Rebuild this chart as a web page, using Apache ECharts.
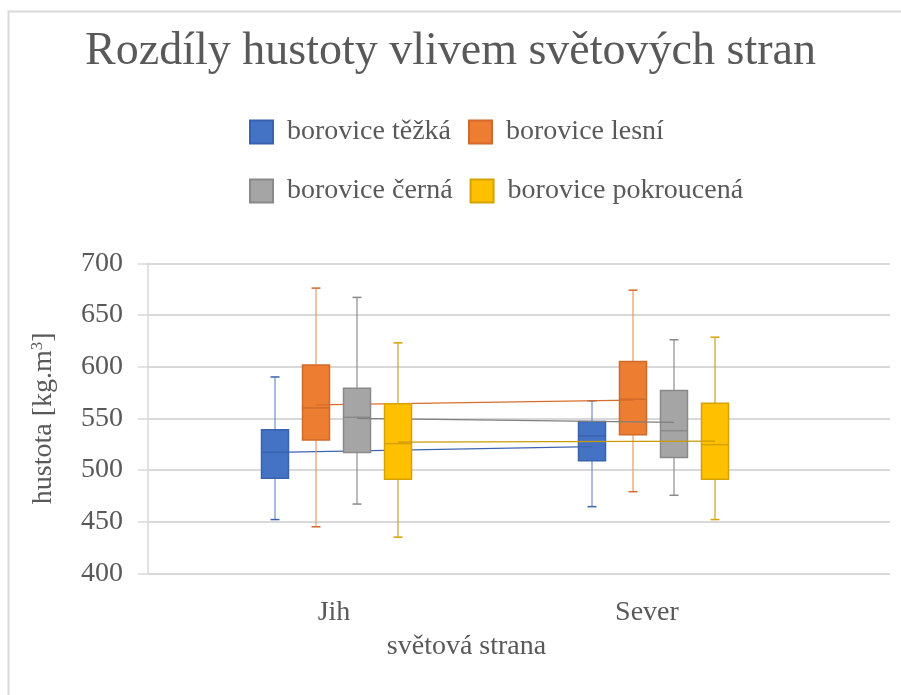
<!DOCTYPE html>
<html>
<head>
<meta charset="utf-8">
<script src="https://cdn.jsdelivr.net/npm/echarts@6/dist/echarts.min.js"></script>
<style>
  html, body { margin: 0; padding: 0; background: #fff; }
  #chart { width: 901px; height: 695px; }
</style>
</head>
<body>
<div id="chart"></div>
<script>
const categories = ['Jih', 'Sever'];
const seriesNames = ['borovice těžká', 'borovice lesní', 'borovice černá', 'borovice pokroucená'];

// [min, Q1, medián, Q3, max] for Jih, Sever
const tezkaBox = [[452, 492, 517, 539, 590], [464.5, 509, 533, 547, 567]];
const lesniBox = [[445, 529, 560, 601.5, 676], [479, 534, 568.5, 605, 674]];
const cernaBox = [[467, 517, 551, 579, 667], [475.5, 512, 538, 577, 626]];
const pokroucenaBox = [[435, 491, 525.5, 564, 623], [452, 491, 524.5, 564.5, 628.5]];

// průměry for Jih, Sever
const tezkaMean = [517, 522.5];
const lesniMean = [563, 567.5];
const cernaMean = [550, 546];
const pokroucenaMean = [527, 528];

const yMin = 400;
const yMax = 700;
const yStep = 50;

const boxes = [tezkaBox, lesniBox, cernaBox, pokroucenaBox];
const means = [tezkaMean, lesniMean, cernaMean, pokroucenaMean];

const FONT = "'Liberation Serif', 'Times New Roman', serif";
const TEXT = '#595959';
const GRID_LINE = '#d9d9d9';

const colors = [
  { fill: '#4472c4', border: '#3a63ad', whisker: '#6f8fca', mean: '#3d64b0' },
  { fill: '#ed7d31', border: '#d0692a', whisker: '#e8996b', mean: '#d86d2d' },
  { fill: '#a5a5a5', border: '#8a8a8a', whisker: '#8c8c8c', mean: '#7f7f7f' },
  { fill: '#ffc000', border: '#d6a200', whisker: '#c9a22b', mean: '#c99a06' }
];

const PLOT_TOP = 263.3;
const PLOT_H = 310;
const BAND_LEFT = 178;
const BAND_W = 634;
const offsets = [-61.5, -20.5, 20.5, 61.5];
const BOX_W = 27;
const CAP_W = 9;

function renderBox(c) {
  return function (params, api) {
    const cat = api.value(0);
    const x = api.coord([cat, yMin])[0];
    const p = [1, 2, 3, 4, 5].map(d => api.coord([cat, api.value(d)])[1]);
    const wStyle = { stroke: c.whisker, lineWidth: 1.2 };
    return {
      type: 'group',
      children: [
        { type: 'line', shape: { x1: x, y1: p[4], x2: x, y2: p[3] }, style: wStyle },
        { type: 'line', shape: { x1: x, y1: p[0], x2: x, y2: p[1] }, style: wStyle },
        { type: 'line', shape: { x1: x - CAP_W / 2, y1: p[4], x2: x + CAP_W / 2, y2: p[4] }, style: { stroke: c.border, lineWidth: 1.5 } },
        { type: 'line', shape: { x1: x - CAP_W / 2, y1: p[0], x2: x + CAP_W / 2, y2: p[0] }, style: { stroke: c.border, lineWidth: 1.5 } },
        { type: 'rect', shape: { x: x - BOX_W / 2, y: p[3], width: BOX_W, height: p[1] - p[3] },
          style: { fill: c.fill, stroke: c.border, lineWidth: 1.5 } },
        { type: 'line', shape: { x1: x - BOX_W / 2, y1: p[2], x2: x + BOX_W / 2, y2: p[2] }, style: { stroke: c.border, lineWidth: 1.5 } }
      ]
    };
  };
}

const grids = [{ left: 148, right: 11, top: PLOT_TOP, height: PLOT_H }];
const xAxes = [{ gridIndex: 0, type: 'category', data: categories, show: false }];
const yAxes = [{
  gridIndex: 0, type: 'value', min: yMin, max: yMax, interval: yStep,
  name: 'hustota [kg.m{sup|3}]', nameLocation: 'middle', nameGap: 90, nameRotate: 90,
  nameTextStyle: {
    fontFamily: FONT, fontSize: 28, color: TEXT,
    rich: { sup: { fontFamily: FONT, fontSize: 17, color: TEXT, padding: [0, 0, 12, 0] } }
  },
  axisLine: { show: true, lineStyle: { color: GRID_LINE, width: 1.5 } },
  axisTick: { show: true, length: 10, lineStyle: { color: GRID_LINE, width: 1.5 } },
  axisLabel: { fontFamily: FONT, fontSize: 28, color: TEXT, margin: 25 },
  splitLine: { lineStyle: { color: GRID_LINE, width: 2 } }
}];

const series = [];
boxes.forEach((box, i) => {
  const gi = i + 1;
  grids.push({ left: BAND_LEFT + offsets[i], width: BAND_W, top: PLOT_TOP, height: PLOT_H });
  xAxes.push({ gridIndex: gi, type: 'category', data: categories, show: false });
  yAxes.push({ gridIndex: gi, type: 'value', min: yMin, max: yMax, show: false });
  series.push({
    name: seriesNames[i],
    type: 'custom',
    xAxisIndex: gi,
    yAxisIndex: gi,
    z: 2 + i * 2,
    itemStyle: { color: colors[i].fill, borderColor: colors[i].border, borderWidth: 1.5 },
    encode: { x: 0, y: [1, 2, 3, 4, 5] },
    data: box.map((b, k) => [k].concat(b)),
    renderItem: renderBox(colors[i])
  });
  series.push({
    name: 'průměr – ' + seriesNames[i],
    type: 'line',
    xAxisIndex: gi,
    yAxisIndex: gi,
    z: 3 + i * 2,
    symbol: 'none',
    silent: true,
    lineStyle: { color: colors[i].mean, width: 1.3 },
    data: means[i]
  });
});

// axis with the category labels
grids.push({ left: 177.5, width: 626, top: PLOT_TOP, height: PLOT_H });
xAxes.push({
  gridIndex: 5, type: 'category', data: categories,
  axisLine: { show: false }, axisTick: { show: false },
  axisLabel: { fontFamily: FONT, fontSize: 28, color: TEXT, margin: 25 }
});
yAxes.push({ gridIndex: 5, type: 'value', min: yMin, max: yMax, show: false });

const legendBase = {
  left: 249,
  padding: 0,
  orient: 'horizontal',
  icon: 'rect',
  itemWidth: 23,
  itemHeight: 23,
  itemGap: 17,
  selectedMode: false,
  textStyle: { fontFamily: FONT, fontSize: 28, color: TEXT, padding: [0, 0, 0, 9] }
};

const chart = echarts.init(document.getElementById('chart'));
chart.setOption({
  animation: false,
  backgroundColor: '#fff',
  title: {
    text: 'Rozdíly hustoty vlivem světových stran',
    left: 'center',
    top: 24,
    textStyle: { fontFamily: FONT, fontSize: 46, fontWeight: 'normal', color: TEXT }
  },
  legend: [
    Object.assign({}, legendBase, {
      top: 118,
      data: [{ name: seriesNames[0], textStyle: { width: 165 } }, seriesNames[1]]
    }),
    Object.assign({}, legendBase, {
      top: 177,
      data: [{ name: seriesNames[2], textStyle: { width: 165 } }, seriesNames[3]]
    })
  ],
  grid: grids,
  xAxis: xAxes,
  yAxis: yAxes,
  graphic: [
    {
      type: 'rect', silent: true, z: -10,
      shape: { x: 8.5, y: 11.5, width: 900, height: 700 },
      style: { fill: null, stroke: GRID_LINE, lineWidth: 2 }
    },
    {
      type: 'text', silent: true,
      x: 466.5, y: 647,
      style: { text: 'světová strana', font: "28px " + FONT, fill: TEXT, align: 'center', verticalAlign: 'middle' }
    }
  ],
  series: series
});
</script>
</body>
</html>
